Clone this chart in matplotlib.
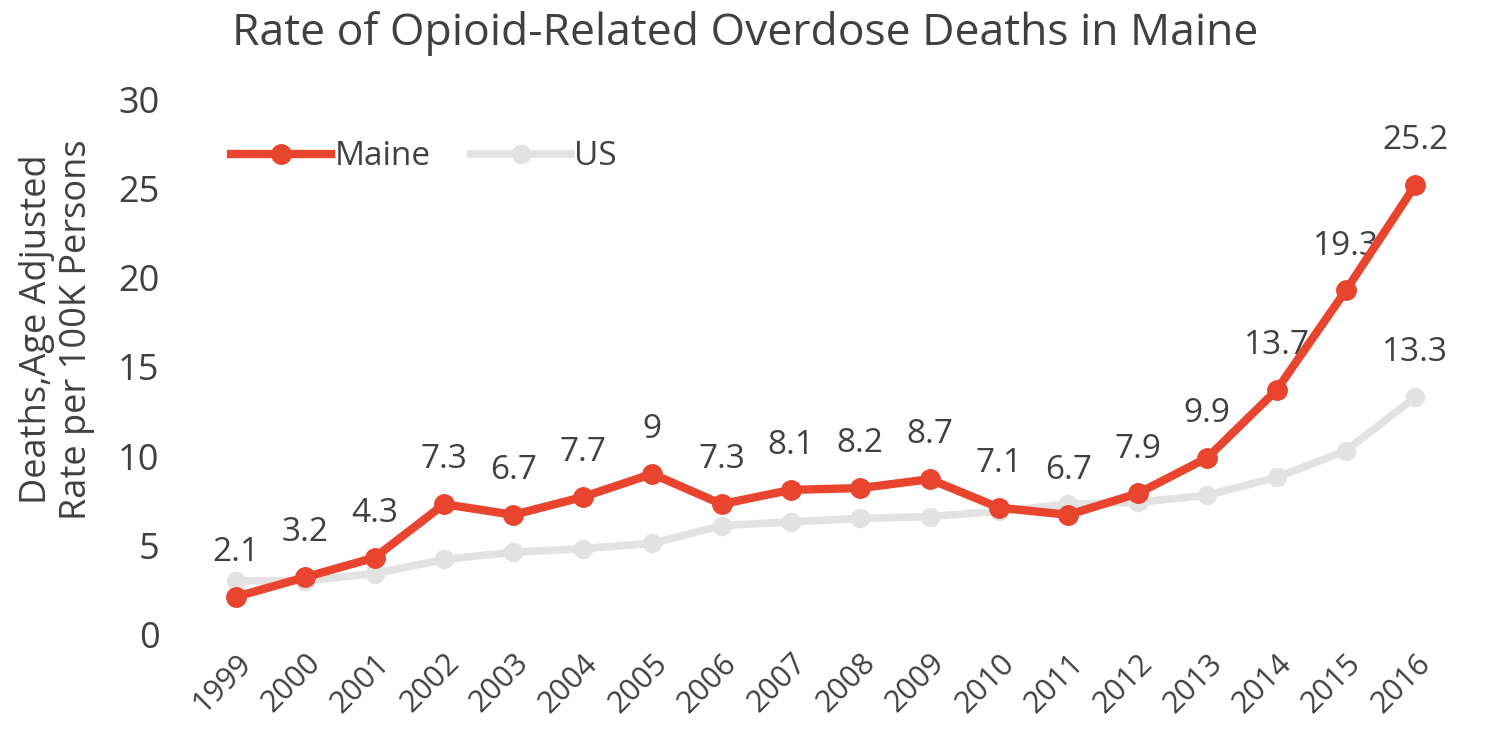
import matplotlib
matplotlib.use("Agg")
import matplotlib.pyplot as plt

years = ["1999", "2000", "2001", "2002", "2003", "2004", "2005", "2006", "2007",
         "2008", "2009", "2010", "2011", "2012", "2013", "2014", "2015", "2016"]
maine = [2.1, 3.2, 4.3, 7.3, 6.7, 7.7, 9, 7.3, 8.1, 8.2, 8.7, 7.1, 6.7, 7.9, 9.9, 13.7, 19.3, 25.2]
us = [3.0, 3.0, 3.4, 4.2, 4.6, 4.8, 5.1, 6.1, 6.3, 6.5, 6.6, 6.9, 7.3, 7.4, 7.8, 8.8, 10.3, 13.3]
yticks = [0, 5, 10, 15, 20, 25, 30]

plt.rcParams['font.family'] = ['Open Sans', 'DejaVu Sans']
txt = '#404040'

fig = plt.figure(figsize=(14.91, 7.55), dpi=100)
ax = fig.add_axes([0.135, 0.16, 0.8375, 0.708])

x = list(range(len(years)))
ax.plot(x, us, color='#E2E2E2', lw=5.5, marker='o', ms=13, label='US', zorder=2)
ax.plot(x, maine, color='#E8442E', lw=6, marker='o', ms=14, label='Maine', zorder=3)

for i, v in enumerate(maine):
    lab = f"{v:g}"
    ax.annotate(lab, (i, v), xytext=(0, 20), textcoords='offset points',
                ha='center', va='bottom', fontsize=24, color=txt, zorder=1)
ax.annotate(f"{us[-1]:g}", (x[-1], us[-1]), xytext=(0, 20), textcoords='offset points',
            ha='center', va='bottom', fontsize=24, color=txt, zorder=1)

ax.set_ylim(0, 30)
ax.set_xlim(-0.5, len(years) - 0.5)
ax.set_yticks(yticks)
ax.set_yticklabels([str(t) for t in yticks], fontsize=26, color=txt)
ax.set_xticks(x)
ax.set_xticklabels(years, rotation=45, ha='right', rotation_mode='anchor',
                   fontsize=22, color=txt)
ax.tick_params(length=0, pad=30)
ax.tick_params(axis='x', pad=10)
for s in ax.spines.values():
    s.set_visible(False)

ax.set_ylabel("Deaths,Age Adjusted\nRate per 100K Persons", fontsize=26, color=txt,
              labelpad=14, linespacing=1.15)
ax.yaxis.set_label_coords(-0.085, 0.57)

fig.suptitle("Rate of Opioid-Related Overdose Deaths in Maine", fontsize=32,
             color=txt, y=0.985)

handles, labels = ax.get_legend_handles_labels()
leg = ax.legend(handles[::-1], labels[::-1], loc='upper left', ncol=2, frameon=False,
                fontsize=24, handlelength=3.0, handletextpad=0.1, columnspacing=1.2,
                bbox_to_anchor=(0.0, 0.98))
for t in leg.get_texts():
    t.set_color(txt)

fig.savefig("out.png", dpi=100)
